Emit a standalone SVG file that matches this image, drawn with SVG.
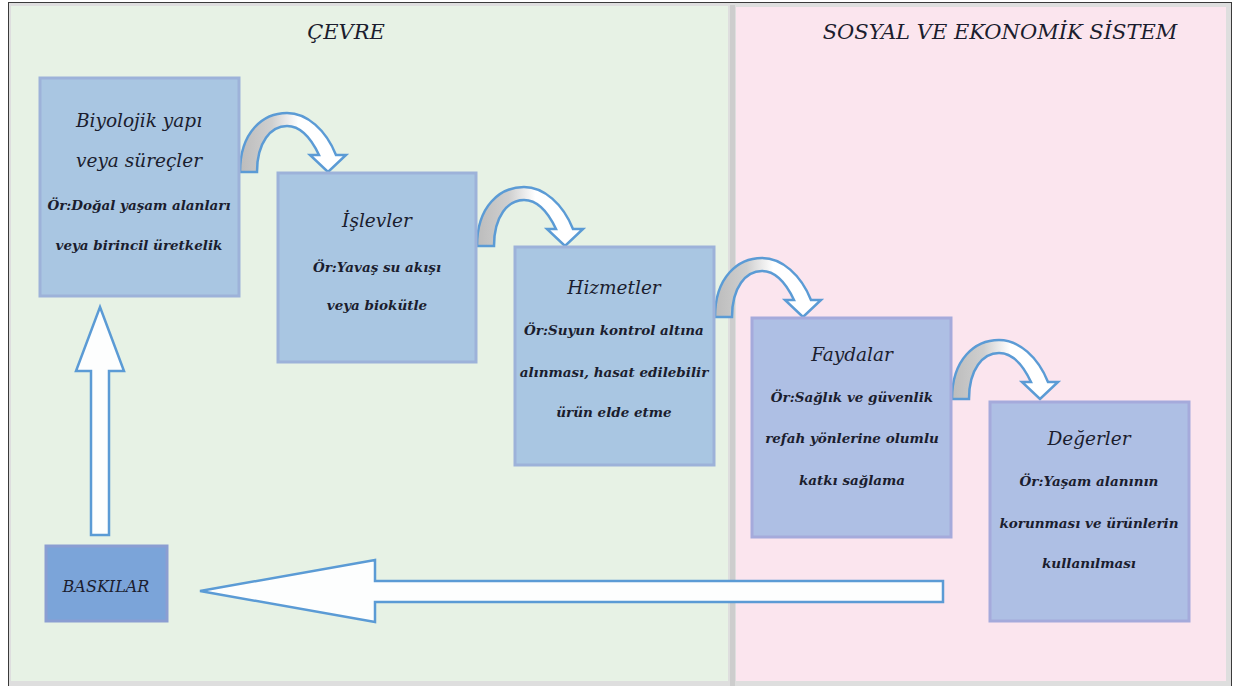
<svg xmlns="http://www.w3.org/2000/svg" width="1233" height="686" viewBox="0 0 1233 686">
<style>
.t{font-family:"DejaVu Serif","Liberation Serif",serif;font-style:italic;fill:#1b1d2e;text-anchor:middle}
.h{font-size:18.5px}
.s{font-size:13.5px;font-weight:bold}
.hd{font-size:21px}
.b1{fill:#a9c6e2;stroke:#9db2d9;stroke-width:3}
.b2{fill:#aebfe4;stroke:#a5aadb;stroke-width:3}
.ca{fill:url(#cg);stroke:#5b9bd5;stroke-width:2.5;stroke-linejoin:miter}
.ba{fill:#fdfefe;stroke:#5b9bd5;stroke-width:2.5}
</style>
<defs>
<linearGradient id="cg" x1="0" y1="0" x2="1" y2="0">
<stop offset="0" stop-color="#bcbcbc"/>
<stop offset="0.3" stop-color="#cfcfcf"/>
<stop offset="0.55" stop-color="#ffffff"/>
<stop offset="1" stop-color="#ffffff"/>
</linearGradient>
<path id="carrow" d="M240,172 C240,132 263,113 287,113 C307,113 326,130 336,155 L346,155 L328,172 L310,155 L319,155 C311,138 300,126 287,126 C271,126 257,142 257,172 Z"/>
</defs>
<rect x="0" y="0" width="1233" height="686" fill="#ffffff"/>
<rect x="8.5" y="2.5" width="1223" height="690" fill="#dedede" stroke="#3a3a3a" stroke-width="1"/>
<rect x="730" y="5" width="5" height="681" fill="#cdcdcd"/>
<g id="panel-cevre">
<rect x="11" y="6" width="717" height="675" fill="#e7f2e5"/>
<text class="t hd" x="346" y="39">ÇEVRE</text>
</g>
<g id="panel-sosyal">
<rect x="736" y="7" width="490" height="674" fill="#fbe5ee"/>
<text class="t hd" x="1000" y="39">SOSYAL VE EKONOMİK SİSTEM</text>
</g>
<g id="connectors">
<use href="#carrow" class="ca"/>
<use href="#carrow" class="ca" transform="translate(237,74)"/>
<use href="#carrow" class="ca" transform="translate(475,145)"/>
<use href="#carrow" class="ca" transform="translate(712,227)"/>
<path class="ba" d="M100,307 L124,371 L109,371 L109,535 L91,535 L91,371 L76,371 Z"/>
<path class="ba" d="M200,591 L375,560 L375,581 L943,581 L943,602 L375,602 L375,622 Z"/>
</g>
<g id="node-biyolojik">
<rect class="b1" x="40" y="78" width="199" height="218"/>
<text class="t h" x="139" y="127">Biyolojik yapı</text>
<text class="t h" x="139" y="167">veya süreçler</text>
<text class="t s" x="139" y="210">Ör:Doğal yaşam alanları</text>
<text class="t s" x="139" y="250">veya birincil üretkelik</text>
</g>
<g id="node-islevler">
<rect class="b1" x="278" y="173" width="198" height="189"/>
<text class="t h" x="377" y="227">İşlevler</text>
<text class="t s" x="377" y="272">Ör:Yavaş su akışı</text>
<text class="t s" x="377" y="310">veya biokütle</text>
</g>
<g id="node-hizmetler">
<rect class="b1" x="515" y="247" width="199" height="218"/>
<text class="t h" x="614" y="294">Hizmetler</text>
<text class="t s" x="614" y="335">Ör:Suyun kontrol altına</text>
<text class="t s" x="614" y="377">alınması, hasat edilebilir</text>
<text class="t s" x="614" y="417">ürün elde etme</text>
</g>
<g id="node-faydalar">
<rect class="b2" x="752" y="318" width="199" height="219"/>
<text class="t h" x="852" y="361">Faydalar</text>
<text class="t s" x="852" y="402">Ör:Sağlık ve güvenlik</text>
<text class="t s" x="852" y="443">refah yönlerine olumlu</text>
<text class="t s" x="852" y="485">katkı sağlama</text>
</g>
<g id="node-degerler">
<rect class="b2" x="990" y="402" width="199" height="219"/>
<text class="t h" x="1089" y="445">Değerler</text>
<text class="t s" x="1089" y="486">Ör:Yaşam alanının</text>
<text class="t s" x="1089" y="528">korunması ve ürünlerin</text>
<text class="t s" x="1089" y="568">kullanılması</text>
</g>
<g id="node-baskilar">
<rect x="46" y="546" width="121" height="75" fill="#7ba4d9" stroke="#8b9ed2" stroke-width="3"/>
<text class="t" x="106" y="592" style="font-size:16px">BASKILAR</text>
</g>
</svg>
